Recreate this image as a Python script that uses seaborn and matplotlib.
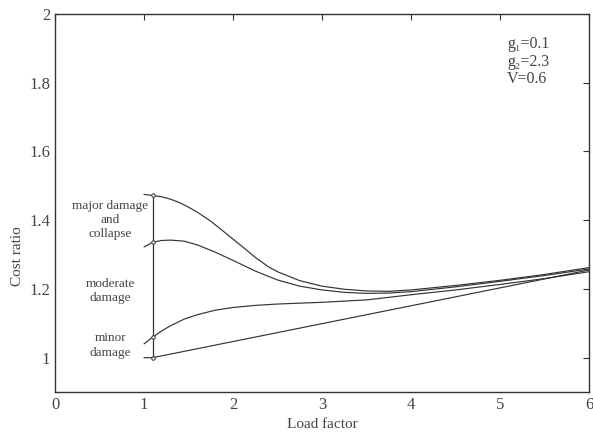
import pandas as pd
import matplotlib.pyplot as plt
import seaborn as sns

# curves (load factor -> cost ratio)
x_upper = [1.0, 1.1, 1.2, 1.3, 1.4, 1.5, 1.6, 1.75, 1.9, 2.0, 2.1, 2.25, 2.4, 2.5, 2.75, 3.0, 3.25, 3.5, 3.75, 4.0, 4.5, 5.0, 5.5, 6.0]
y_upper = [1.475, 1.472, 1.468, 1.461, 1.451, 1.438, 1.423, 1.397, 1.366, 1.345, 1.324, 1.292, 1.264, 1.25, 1.224, 1.208, 1.199, 1.194, 1.193, 1.197, 1.210, 1.225, 1.242, 1.262]

x_major = [1.0, 1.1, 1.2, 1.3, 1.45, 1.6, 1.8, 2.0, 2.25, 2.5, 2.75, 3.0, 3.25, 3.5, 3.75, 4.0, 4.5, 5.0, 5.5, 6.0]
y_major = [1.322, 1.336, 1.341, 1.342, 1.339, 1.328, 1.307, 1.283, 1.252, 1.226, 1.208, 1.197, 1.19, 1.187, 1.188, 1.192, 1.206, 1.222, 1.239, 1.258]

x_moderate = [1.0, 1.1, 1.2, 1.3, 1.45, 1.6, 1.8, 2.0, 2.25, 2.5, 3.0, 3.5, 4.0, 4.5, 5.0, 5.5, 6.0]
y_moderate = [1.04, 1.06, 1.078, 1.093, 1.112, 1.125, 1.138, 1.146, 1.152, 1.156, 1.161, 1.168, 1.183, 1.197, 1.213, 1.23, 1.25]

x_minor = [1.0, 1.1, 6.0]
y_minor = [1.0, 1.0, 1.255]

bar_x = 1.1
bar_levels = [1.0, 1.06, 1.336, 1.472]

labels = ["major damage\nand\ncollapse", "moderate\ndamage", "minor\ndamage"]
label_y = [1.40, 1.195, 1.035]

params = "g\u2081=0.1\ng\u2082=2.3\nV=0.6"

frames = []
for name, xs, ys in [("upper", x_upper, y_upper), ("major", x_major, y_major),
                     ("moderate", x_moderate, y_moderate), ("minor", x_minor, y_minor)]:
    frames.append(pd.DataFrame({"load": xs, "cost": ys, "curve": name}))
df = pd.concat(frames, ignore_index=True)

sns.set_style("white")
plt.rcParams["font.family"] = ["Liberation Serif", "DejaVu Serif"]

fig = plt.figure(figsize=(5.93, 4.37), dpi=100)
ax = fig.add_axes([55 / 593, 1 - 392 / 437, 534 / 593, 378 / 437])

line_col = "#333333"
text_col = "#444444"
sns.lineplot(data=df, x="load", y="cost", hue="curve", units="curve", estimator=None,
             sort=False, palette=[line_col] * 4, linewidth=0.85, legend=False, ax=ax)

# vertical bar with the damage-state limits
ax.plot([bar_x, bar_x], [bar_levels[0], bar_levels[-1]], color=line_col, lw=0.9)
ax.plot([bar_x] * len(bar_levels), bar_levels, ls="none", marker="o", ms=2.5,
        mfc="white", mec=line_col, mew=0.7)

for lab, yy in zip(labels, label_y):
    ax.text(0.62, yy, lab, ha="center", va="center", fontsize=9.5, color=text_col,
            linespacing=1.25)

ax.text(5.08, 1.935, params, ha="left", va="top", fontsize=11.5, color=text_col,
        linespacing=1.1)

ax.set_xlim(0, 6)
ax.set_ylim(0.9, 2)
ax.set_xticks(range(7))
ax.set_yticks([1, 1.2, 1.4, 1.6, 1.8, 2])
ax.set_yticklabels(["1", "1.2", "1.4", "1.6", "1.8", "2"])
ax.tick_params(direction="in", length=4, top=True, right=True, labelsize=12,
               colors=line_col, labelcolor=text_col, width=0.8)
for s in ax.spines.values():
    s.set_color(line_col)
    s.set_linewidth(1.0)
ax.set_xlabel("Load factor", fontsize=11, color=text_col, labelpad=4)
ax.set_ylabel("Cost ratio", fontsize=11, color=text_col)
ax.yaxis.set_label_coords(-0.058, 0.36)

fig.savefig("out.png", dpi=100)
